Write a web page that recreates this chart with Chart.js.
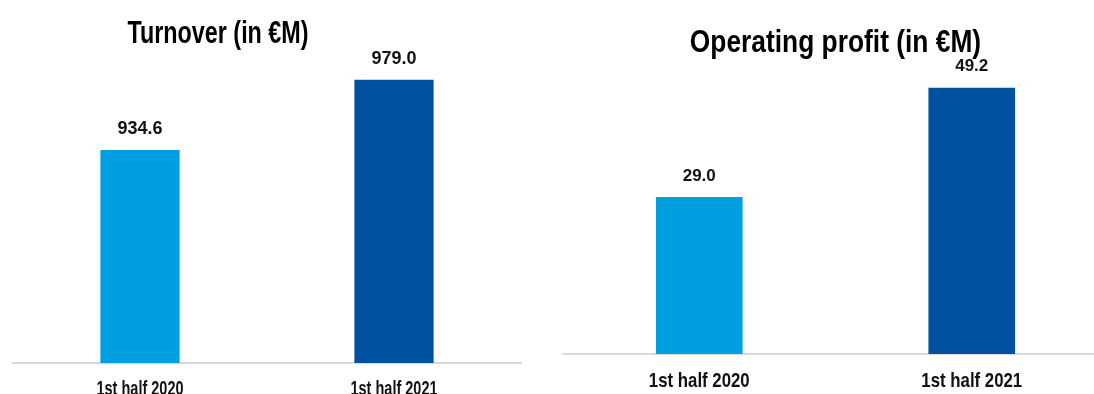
<!DOCTYPE html>
<html lang="en">
<head>
    <meta charset="UTF-8">
    <title>Turnover and operating profit</title>
    <script src="https://cdn.jsdelivr.net/npm/chart.js"></script>
    <style>
        html, body { margin: 0; padding: 0; background: #fff; overflow: hidden; }
        body { width: 1094px; height: 394px; position: relative; }
        .box { position: absolute; top: 0; height: 394px; }
    </style>
</head>
<body>

<div class="box" style="left:0; width:547px;"><canvas id="turnoverChart"></canvas></div>
<div class="box" style="left:547px; width:575px;"><canvas id="profitChart"></canvas></div>

<script>
    // --- data ---
    const periods = ['1st half 2020', '1st half 2021'];
    const turnover = [934.6, 979.0];
    const operatingProfit = [29.0, 49.2];
    const barColors = ['#009fe0', '#0051a0'];

    const FONT = "'Liberation Sans', Arial, sans-serif";
    Chart.defaults.font.family = FONT;
    Chart.defaults.maintainAspectRatio = false;
    Chart.defaults.animation = false;

    // the source uses a condensed bold face, so text is drawn narrowed horizontally
    function narrowText(ctx, text, x, y, size, squeeze, baseline) {
        ctx.save();
        ctx.font = 'bold ' + size + 'px ' + FONT;
        ctx.textAlign = 'center';
        ctx.textBaseline = baseline;
        ctx.translate(x, y);
        ctx.scale(squeeze, 1);
        ctx.fillText(text, 0, 0);
        ctx.restore();
    }

    const textLayer = {
        id: 'textLayer',
        afterDatasetsDraw(chart, args, o) {
            const ctx = chart.ctx;
            const area = chart.chartArea;
            const xs = chart.scales.x;
            ctx.fillStyle = '#000';
            // title
            narrowText(ctx, o.title, (area.left + area.right) / 2 + o.titleShift, o.titleY, o.titleSize, o.titleSqueeze, 'alphabetic');
            // values above bars and category labels below the axis
            ctx.fillStyle = '#111';
            chart.getDatasetMeta(0).data.forEach((bar, i) => {
                const v = chart.data.datasets[0].data[i];
                narrowText(ctx, v.toFixed(1), bar.x, bar.y - o.valueGap, o.valueSize, o.valueSqueeze, 'middle');
                narrowText(ctx, chart.data.labels[i], xs.getPixelForValue(i), area.bottom + o.tickGap, o.tickSize, o.tickSqueeze, 'alphabetic');
            });
        }
    };

    function makeChart(id, values, s) {
        return new Chart(document.getElementById(id), {
            type: 'bar',
            data: {
                labels: periods,
                datasets: [{
                    data: values,
                    backgroundColor: barColors,
                    barPercentage: 1,
                    categoryPercentage: s.barShare
                }]
            },
            options: {
                responsive: true,
                layout: { padding: s.padding },
                plugins: {
                    legend: { display: false },
                    tooltip: { enabled: false },
                    title: { display: false },
                    textLayer: s.text
                },
                scales: {
                    x: {
                        grid: { display: false, drawTicks: false },
                        border: { display: true, color: '#d9d9d9', width: 2 },
                        ticks: { display: false }
                    },
                    y: { display: false, min: s.min, max: s.max }
                }
            },
            plugins: [textLayer]
        });
    }

    makeChart('turnoverChart', turnover, {
        min: 800, max: 1000, barShare: 0.312,
        padding: { left: 13, right: 26, top: 46.5, bottom: 31 },
        text: {
            title: 'Turnover (in €M)', titleShift: -49, titleY: 43, titleSize: 31, titleSqueeze: 0.753,
            valueSize: 18, valueSqueeze: 1, valueGap: 20.5,
            tickSize: 20, tickSqueeze: 0.725, tickGap: 31.5
        }
    });

    makeChart('profitChart', operatingProfit, {
        min: 0, max: 60, barShare: 0.318,
        padding: { left: 16, right: 14, top: 29.2, bottom: 40 },
        text: {
            title: 'Operating profit (in €M)', titleShift: 0, titleY: 52, titleSize: 31, titleSqueeze: 0.85,
            valueSize: 17, valueSqueeze: 1, valueGap: 21,
            tickSize: 21, tickSqueeze: 0.8, tickGap: 33
        }
    });
</script>
</body>
</html>
